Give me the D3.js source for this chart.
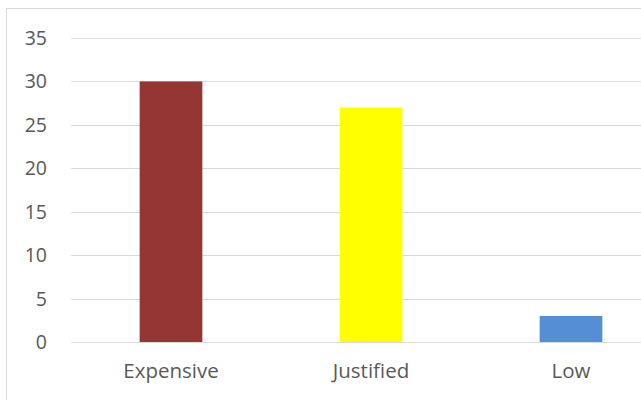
<!DOCTYPE html>
<html>
<head>
<meta charset="utf-8">
<script src="https://cdn.jsdelivr.net/npm/d3@7"></script>
<style>
  body { margin: 0; background: #fff; }
  text { font-family: "Open Sans", "Noto Sans", sans-serif; fill: #595959; }
</style>
</head>
<body>
<svg id="chart" width="641" height="400"></svg>
<script>
let categories = ['Expensive', 'Justified', 'Low'];
let values = [30, 27, 3];
let colors = ['#943634', '#ffff00', '#558ed5'];
let yTicks = [0, 5, 10, 15, 20, 25, 30, 35];

let svg = d3.select('#chart');

// outer chart frame (cropped on right and bottom like the original)
svg.append('rect')
  .attr('x', 6.5)
  .attr('y', 8.5)
  .attr('width', 700)
  .attr('height', 500)
  .attr('fill', '#fff')
  .attr('stroke', '#d9d9d9');

let gap = 2.19;
let p = 1 - 1/(1+gap);

let sx = d3.scaleBand()
  .domain(categories)
  .range([71, 671])
  .paddingInner(p)
  .paddingOuter(p/2);

let sy = d3.scaleLinear()
  .domain([0, 35])
  .range([342, 38]);

// gridlines
svg.selectAll('.grid')
  .data(yTicks)
  .enter()
  .append('line')
  .attr('class', 'grid')
  .attr('x1', 71)
  .attr('x2', 671)
  .attr('y1', d=>Math.round(sy(d))+0.5)
  .attr('y2', d=>Math.round(sy(d))+0.5)
  .attr('stroke', '#d9d9d9')
  .attr('stroke-width', 1.2);

// y tick labels
svg.selectAll('.ylab')
  .data(yTicks)
  .enter()
  .append('text')
  .attr('class', 'ylab')
  .attr('x', 47)
  .attr('y', d=>sy(d))
  .attr('dy', '0.36em')
  .attr('text-anchor', 'end')
  .style('font-size', '19.5px')
  .text(d=>d);

// bars
svg.selectAll('.bar')
  .data(values)
  .enter()
  .append('rect')
  .attr('class', 'bar')
  .attr('x', (_,i)=>sx(categories[i]))
  .attr('width', sx.bandwidth())
  .attr('y', d=>sy(d))
  .attr('height', d=>sy(0)-sy(d))
  .attr('fill', (_,i)=>colors[i]);

// category labels
svg.selectAll('.xlab')
  .data(categories)
  .enter()
  .append('text')
  .attr('class', 'xlab')
  .attr('x', d=>sx(d)+sx.bandwidth()/2)
  .attr('y', 378)
  .attr('text-anchor', 'middle')
  .style('font-size', '20.5px')
  .text(d=>d);
</script>
</body>
</html>
